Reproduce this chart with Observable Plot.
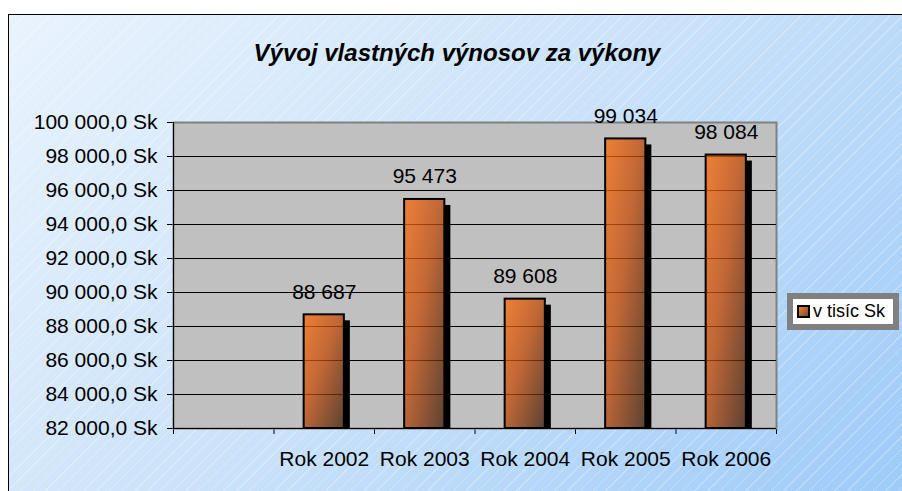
<!DOCTYPE html>
<html>
<head>
<meta charset="utf-8">
<script src="https://cdn.jsdelivr.net/npm/d3@7"></script>
<script src="https://cdn.jsdelivr.net/npm/@observablehq/plot@0.6"></script>
<style>
  html, body { margin: 0; padding: 0; background: #ffffff; }
  #wrap { position: relative; width: 902px; height: 491px; overflow: hidden; font-family: "Liberation Sans", Arial, sans-serif; }
  #bg { position: absolute; left: 8px; top: 14px; width: 900px; height: 490px; border: 1px solid #000;
        background:
          repeating-linear-gradient(-45deg, rgba(255,255,255,0) 0px, rgba(255,255,255,0) 8px, rgba(255,255,255,0.28) 8px, rgba(255,255,255,0.28) 9px),
          linear-gradient(135deg, #e9f3fd 0%, #c9e1f9 50%, #9ccaf8 100%); }
  #title { position: absolute; top: 39px; left: 457px; transform: translateX(-50%); white-space: nowrap;
           font-size: 24px; font-weight: bold; font-style: italic; color: #000; }
  #chart { position: absolute; left: 0; top: 0; }
  #legend { position: absolute; left: 787px; top: 293px; width: 112px; height: 37px; background: #808080; }
  #legend .inner { position: absolute; left: 6px; top: 6px; width: 100px; height: 25px; background: #fff;
                   font-size: 18px; line-height: 25px; white-space: nowrap; }
  #legend .sw { position: absolute; left: 4px; top: 6px; width: 9px; height: 9px; border: 2px solid #000;
                background: linear-gradient(135deg, #f08030, #7a4a30); }
  #legend .lt { position: absolute; left: 20px; top: 0px; }
</style>
</head>
<body>
<div id="wrap">
  <div id="bg"></div>
  <div id="title">Vývoj vlastných výnosov za výkony</div>
  <div id="chart"></div>
  <div id="legend"><div class="inner"><div class="sw"></div><span class="lt">v tisíc Sk</span></div></div>
</div>
<script>
// ---- data ----
const categories = ["Rok 2002", "Rok 2003", "Rok 2004", "Rok 2005", "Rok 2006"];
const values = [88687, 95473, 89608, 99034, 98084];
const valueLabels = ["88 687", "95 473", "89 608", "99 034", "98 084"];
const yTicks = [82000, 84000, 86000, 88000, 90000, 92000, 94000, 96000, 98000, 100000];
const seriesName = "v tisíc Sk";

// first category slot is empty (as in the original)
const rows = categories.map((c, i) => ({ cat: c, slot: i + 1, value: values[i], label: valueLabels[i] }));
const slotBoundaries = d3.range(categories.length + 2);
const yMin = yTicks[0], yMax = yTicks[yTicks.length - 1];

const skLocale = d3.formatLocale({ decimal: ",", thousands: " ", grouping: [3], currency: ["", " Sk"] });
const fmtSk = skLocale.format("$,.1f");

const defs = () => {
  const ns = "http://www.w3.org/2000/svg";
  const g = document.createElementNS(ns, "defs");
  g.innerHTML = `<linearGradient id="barGrad" x1="0" y1="0" x2="1" y2="1">
      <stop offset="0" stop-color="#ff6a08"/>
      <stop offset="0.45" stop-color="#c24a08"/>
      <stop offset="1" stop-color="#3a1804"/>
    </linearGradient>`;
  return g;
};

const chart = Plot.plot({
  width: 902,
  height: 491,
  marginLeft: 173,
  marginRight: 126,
  marginTop: 122,
  marginBottom: 63,
  style: { background: "transparent", fontFamily: "'Liberation Sans', Arial, sans-serif", fontSize: "21px", color: "#000" },
  x: { domain: [0, categories.length + 1], ticks: slotBoundaries, tickSize: 6, tickFormat: () => "", label: null },
  y: { domain: [yMin, yMax], ticks: yTicks, tickSize: 6, tickPadding: 10, tickFormat: fmtSk, label: null },
  marks: [
    defs,
    Plot.frame({ fill: "#c0c0c0", stroke: "#808080", strokeWidth: 2 }),
    Plot.ruleY(yTicks.slice(1, -1), { stroke: "#000", strokeWidth: 1 }),
    // shadow
    Plot.rect(rows, { x1: d => d.slot + 0.7, x2: d => d.slot + 0.7, y1: yMin, y2: "value", insetRight: -6, insetTop: 6, fill: "#000" }),
    // bars
    Plot.rect(rows, { x1: d => d.slot + 0.3, x2: d => d.slot + 0.7, y1: yMin, y2: "value",
      fill: "url(#barGrad)", fillOpacity: 0.75, stroke: "#000", strokeWidth: 2 }),
    Plot.ruleX([0], { stroke: "#000" }),
    Plot.ruleY([yMin], { stroke: "#000" }),
    // value labels
    Plot.text(rows, { x: d => d.slot + 0.5, y: "value", text: "label", dy: -23, fontSize: 21, fill: "#000" }),
    // category labels
    Plot.text(rows, { x: d => d.slot + 0.5, y: yMin, text: "cat", dy: 31, fontSize: 21, fill: "#000" })
  ]
});
document.getElementById("chart").appendChild(chart);
</script>
</body>
</html>
